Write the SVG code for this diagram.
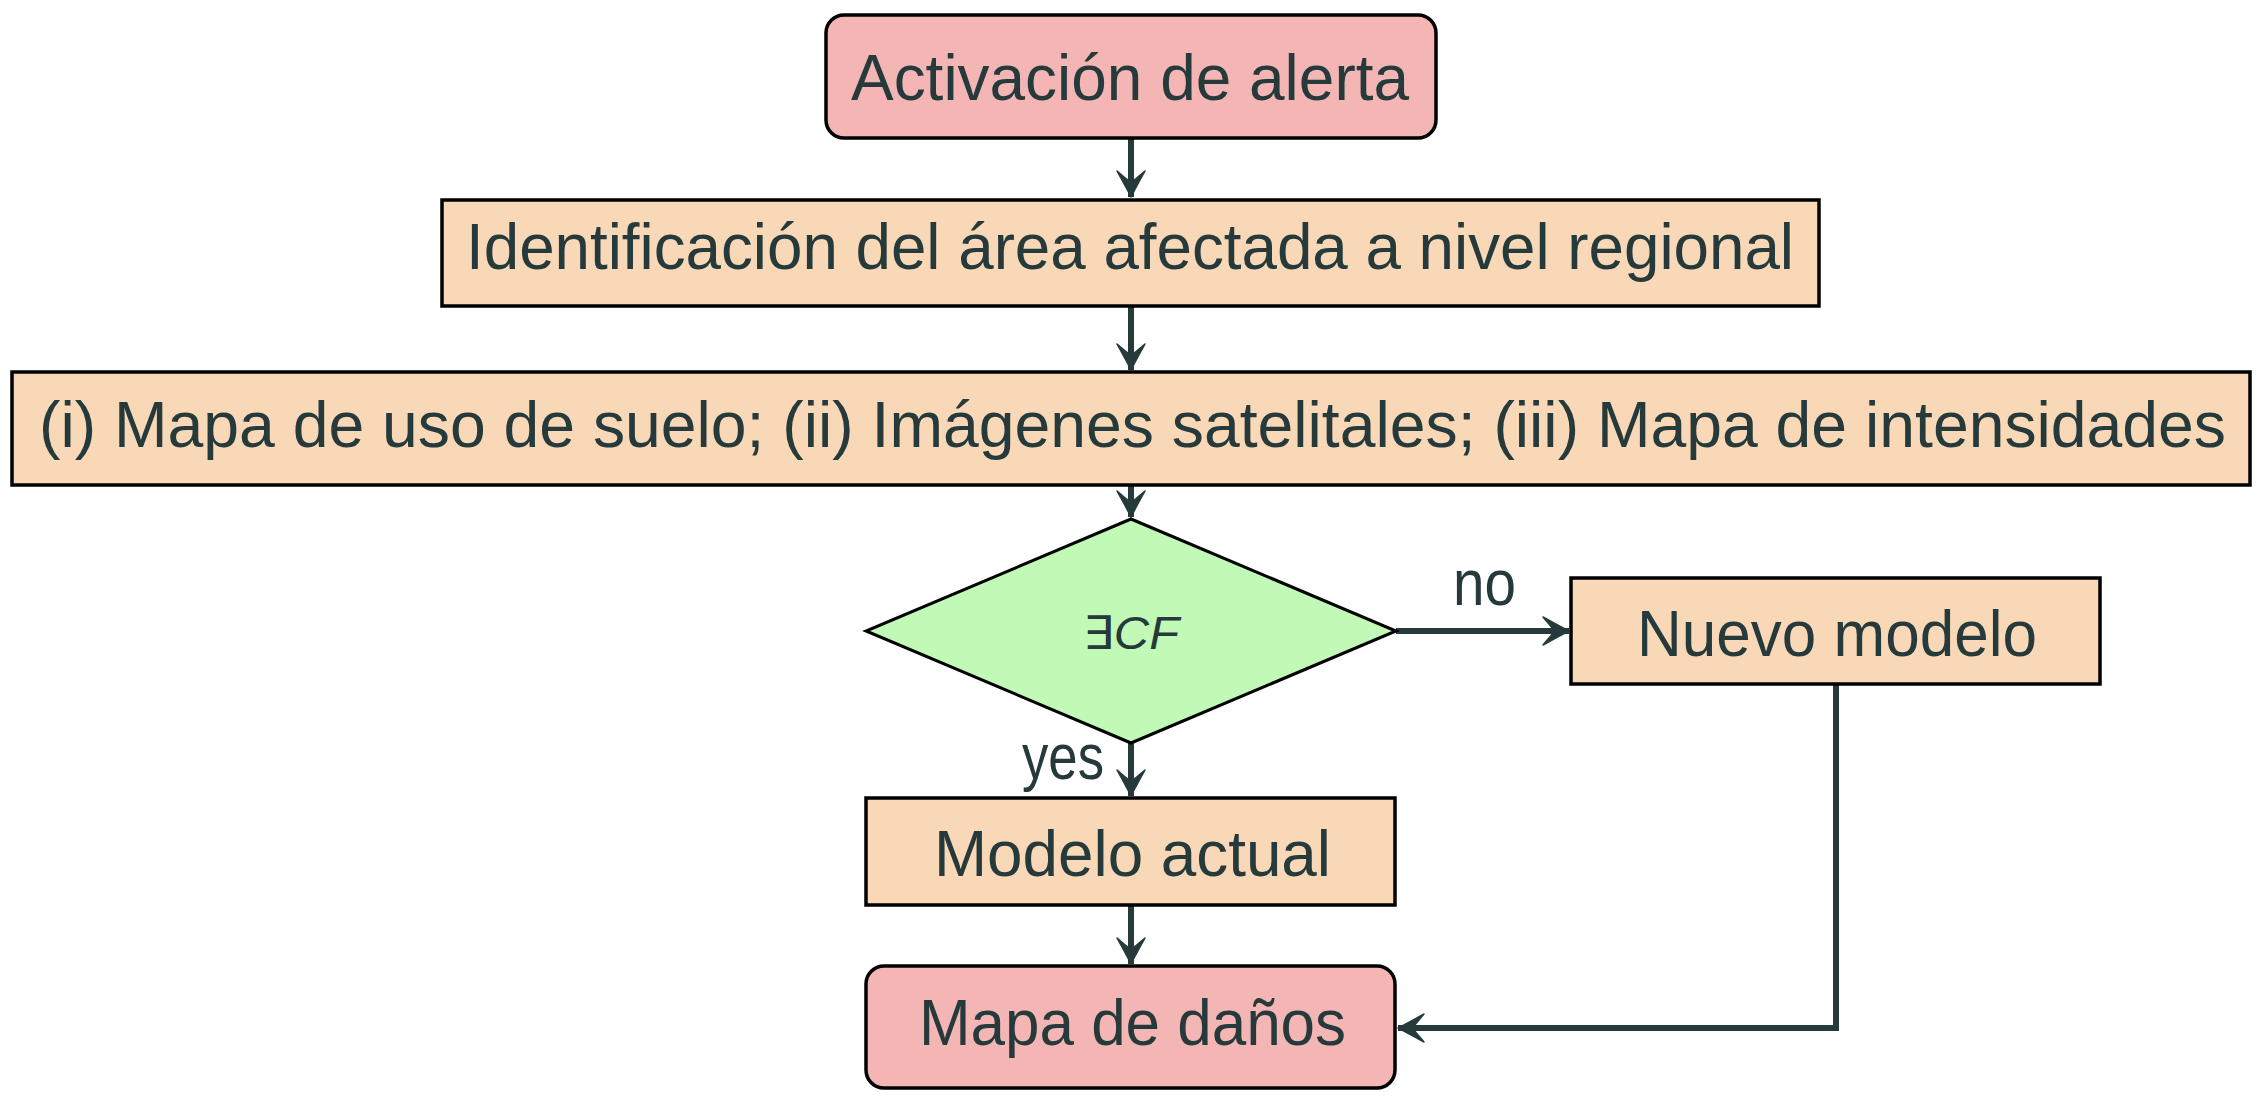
<svg xmlns="http://www.w3.org/2000/svg" width="2264" height="1108" viewBox="0 0 2264 1108">
<style>
.pink{fill:#F4B5B5;stroke:#000;stroke-width:3.5}
.peach{fill:#F8D8B7;stroke:#000;stroke-width:3.5}
.green{fill:#C1F9B7;stroke:#000;stroke-width:3}
.t{font-family:"Liberation Sans","DejaVu Sans",sans-serif;font-size:65px;fill:#263A3C}
.s{font-family:"Liberation Sans","DejaVu Sans",sans-serif;font-size:46px;fill:#263A3C}
.c{fill:none;stroke:#263A3C;stroke-width:6;marker-end:url(#ah)}
</style>
<defs>
<marker id="ah" markerUnits="userSpaceOnUse" viewBox="-30 -16 32 32" markerWidth="32" markerHeight="32" refX="0" refY="0" orient="auto" overflow="visible">
<path d="M0,0 C-8,-4 -17,-9 -26,-14 C-21,-8 -17,-4 -15,0 C-17,4 -21,8 -26,14 C-17,9 -8,4 0,0 Z" fill="#263A3C" stroke="#263A3C" stroke-width="1.5" stroke-linejoin="round"/>
</marker>
</defs>
<g id="connectors">
<path class="c" d="M1131,139 V197"/>
<path class="c" d="M1131,306 V370"/>
<path class="c" d="M1131,486 V517"/>
<path class="c" d="M1396,631 H1569"/>
<path class="c" d="M1131,743 V796"/>
<path class="c" d="M1131,905 V964"/>
<path class="c" d="M1836,684 V1028 H1398"/>
<text class="t" x="1453" y="605" textLength="63" lengthAdjust="spacingAndGlyphs">no</text>
<text class="t" x="1022" y="779" textLength="82" lengthAdjust="spacingAndGlyphs">yes</text>
</g>
<g id="n1">
<rect class="pink" x="826" y="15" width="610" height="123" rx="18"/>
<text class="t" x="851" y="100" textLength="558" lengthAdjust="spacingAndGlyphs">Activación de alerta</text>
</g>
<g id="n2">
<rect class="peach" x="442" y="200" width="1377" height="106"/>
<text class="t" x="466" y="269" textLength="1328" lengthAdjust="spacingAndGlyphs">Identificación del área afectada a nivel regional</text>
</g>
<g id="n3">
<rect class="peach" x="12" y="372" width="2238" height="113"/>
<text class="t" x="39" y="447" textLength="2187" lengthAdjust="spacingAndGlyphs">(i) Mapa de uso de suelo; (ii) Imágenes satelitales; (iii) Mapa de intensidades</text>
</g>
<g id="n4">
<polygon class="green" points="1131,519 1396,631 1131,743 866,631"/>
<text class="s" x="1083" y="649" textLength="96" lengthAdjust="spacingAndGlyphs">∃<tspan font-style="italic">CF</tspan></text>
</g>
<g id="n5">
<rect class="peach" x="1571" y="578" width="529" height="106"/>
<text class="t" x="1637" y="656" textLength="400" lengthAdjust="spacingAndGlyphs">Nuevo modelo</text>
</g>
<g id="n6">
<rect class="peach" x="866" y="798" width="529" height="107"/>
<text class="t" x="934" y="876" textLength="397" lengthAdjust="spacingAndGlyphs">Modelo actual</text>
</g>
<g id="n7">
<rect class="pink" x="866" y="966" width="529" height="122" rx="18"/>
<text class="t" x="919" y="1045" textLength="427" lengthAdjust="spacingAndGlyphs">Mapa de daños</text>
</g>
</svg>
